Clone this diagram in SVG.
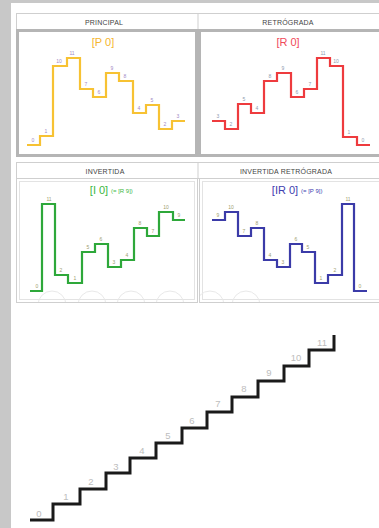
<svg xmlns="http://www.w3.org/2000/svg" width="379" height="528" viewBox="0 0 379 528">
<style>
.hdr{font-family:"Liberation Sans",Arial,sans-serif;font-size:7px;fill:#444;text-anchor:middle;letter-spacing:0.2px}
.ttl{font-family:"Liberation Sans",Arial,sans-serif;font-size:11px;text-anchor:middle}
.sub{font-family:"Liberation Sans",Arial,sans-serif;font-size:6px}
.lbl{font-family:"Liberation Sans",Arial,sans-serif;font-size:5px;text-anchor:middle}
.st{font-family:"Liberation Sans",Arial,sans-serif;font-size:9.5px;fill:#bdbdbd;text-anchor:middle}
.row{fill:none;stroke-width:2.2;stroke-linejoin:miter}
.thin{fill:#fff;stroke:#cfcfcf;stroke-width:1}
.wm{fill:none;stroke:#e9e9e9;stroke-width:1}
</style>
<defs>
<clipPath id="clipL"><rect x="17" y="179" width="180" height="123"/></clipPath>
<clipPath id="clipR"><rect x="200" y="179" width="179" height="123"/></clipPath>
</defs>
<rect x="0" y="0" width="379" height="528" fill="#fff"/>
<rect x="0" y="0" width="379" height="3" fill="#c8c8c8"/>
<rect x="0" y="0" width="11" height="528" fill="#c8c8c8"/>

<!-- top row -->
<g id="header-top">
<rect x="16.5" y="13.5" width="363" height="16" class="thin"/>
<line x1="198" y1="13" x2="198" y2="29" stroke="#cfcfcf"/>
<text class="hdr" x="104" y="24.5">PRINCIPAL</text>
<text class="hdr" x="288" y="24.5">RETRÓGRADA</text>
</g>

<g id="principal">
<rect x="17.5" y="30.5" width="179" height="125" fill="#fff" stroke="#b5b5b5" stroke-width="3"/>
<text class="ttl" x="103" y="46" fill="#f5b52e">[P 0]</text>
<path class="row" stroke="#f7c233" d="M27,145 H40 V136 H53 V66 H67 V58 H80 V89 H93 V97 H106 V73 H119 V81 H133 V113 H146 V105 H159 V129 H172 V121 H185"/>
<g class="lbl" fill="#a38ac4">
<text x="33" y="142">0</text><text x="46" y="133">1</text><text x="59" y="63">10</text><text x="72" y="55">11</text>
<text x="86" y="86">7</text><text x="99" y="94">6</text><text x="112" y="70">9</text><text x="125" y="78">8</text>
<text x="139" y="110">4</text><text x="152" y="102">5</text><text x="165" y="126">2</text><text x="178" y="118">3</text>
</g>
</g>

<g id="retrograda">
<rect x="199.5" y="30.5" width="181" height="125" fill="#fff" stroke="#b5b5b5" stroke-width="3"/>
<text class="ttl" x="288" y="46" fill="#f04a5a">[R 0]</text>
<path class="row" stroke="#ee3b3e" d="M212,121 H225 V129 H238 V104 H251 V113 H264 V81 H277 V73 H291 V97 H304 V89 H317 V58 H330 V66 H343 V137 H357 V145 H370"/>
<g class="lbl" fill="#8f9bb0">
<text x="218" y="118">3</text><text x="231" y="126">2</text><text x="244" y="101">5</text><text x="257" y="110">4</text>
<text x="270" y="78">8</text><text x="283" y="70">9</text><text x="297" y="94">6</text><text x="310" y="86">7</text>
<text x="323" y="55">11</text><text x="336" y="63">10</text><text x="349" y="134">1</text><text x="363" y="142">0</text>
</g>
</g>

<!-- second row -->
<g id="header-bottom">
<rect x="16.5" y="162.5" width="363" height="16" class="thin"/>
<line x1="198" y1="162" x2="198" y2="178" stroke="#cfcfcf"/>
<text class="hdr" x="105" y="173.5">INVERTIDA</text>
<text class="hdr" x="286" y="173.5">INVERTIDA RETRÓGRADA</text>
</g>

<g id="invertida">
<rect x="16.5" y="178.5" width="181" height="124" class="thin"/>
<rect x="19.5" y="181.5" width="175" height="118" fill="none" stroke="#e3e3e3"/>
<g clip-path="url(#clipL)">
<circle class="wm" cx="52" cy="305" r="14"/><circle class="wm" cx="92" cy="305" r="14"/><circle class="wm" cx="131" cy="305" r="14"/><circle class="wm" cx="170" cy="305" r="14"/>
</g>
<text class="ttl" x="99" y="194" fill="#3cb843">[I 0]</text>
<text class="sub" x="111" y="193" fill="#3cb843">(= [R 9])</text>
<path class="row" stroke="#2ea83a" d="M30,291 H42 V204 H55 V275 H68 V283 H82 V252 H95 V244 H108 V267 H121 V260 H134 V228 H147 V236 H159 V212 H173 V220 H185"/>
<g class="lbl" fill="#a0a070">
<text x="37" y="288">0</text><text x="49" y="201">11</text><text x="61" y="272">2</text><text x="75" y="280">1</text>
<text x="88" y="249">5</text><text x="101" y="241">6</text><text x="114" y="264">3</text><text x="127" y="257">4</text>
<text x="140" y="225">8</text><text x="153" y="233">7</text><text x="166" y="209">10</text><text x="179" y="217">9</text>
</g>
</g>

<g id="invertida-retrograda">
<rect x="199.5" y="178.5" width="181" height="124" class="thin"/>
<rect x="202.5" y="181.5" width="178" height="118" fill="none" stroke="#e3e3e3"/>
<g clip-path="url(#clipR)">
<circle class="wm" cx="210" cy="305" r="14"/><circle class="wm" cx="246" cy="305" r="14"/>
</g>
<text class="ttl" x="285" y="194" fill="#4040b0">[IR 0]</text>
<text class="sub" x="301" y="193" fill="#4040b0">(= [P 9])</text>
<path class="row" stroke="#3b3ba8" d="M212,220 H225 V212 H238 V236 H251 V228 H264 V260 H277 V267 H290 V244 H302 V252 H315 V283 H328 V275 H342 V204 H354 V291 H367"/>
<g class="lbl" fill="#a0a070">
<text x="218" y="217">9</text><text x="231" y="209">10</text><text x="244" y="233">7</text><text x="257" y="225">8</text>
<text x="270" y="257">4</text><text x="283" y="264">3</text><text x="296" y="241">6</text><text x="308" y="249">5</text>
<text x="321" y="280">1</text><text x="335" y="272">2</text><text x="348" y="201">11</text><text x="360" y="288">0</text>
</g>
</g>

<!-- staircase -->
<g id="staircase">
<path fill="none" stroke="#1a1a1a" stroke-width="3" d="M30,520 H53 V504 H80 V489 H106 V473 H130 V458 H156 V443 H182 V428 H207 V412 H232 V397 H258 V381 H284 V366 H309 V350 H334 V335"/>
<text class="st" x="39" y="517">0</text>
<text class="st" x="66" y="500">1</text>
<text class="st" x="91" y="485">2</text>
<text class="st" x="116" y="470">3</text>
<text class="st" x="142" y="454">4</text>
<text class="st" x="168" y="439">5</text>
<text class="st" x="192" y="424">6</text>
<text class="st" x="218" y="407">7</text>
<text class="st" x="244" y="392">8</text>
<text class="st" x="269" y="376">9</text>
<text class="st" x="296" y="361">10</text>
<text class="st" x="322" y="346">11</text>
</g>
</svg>
